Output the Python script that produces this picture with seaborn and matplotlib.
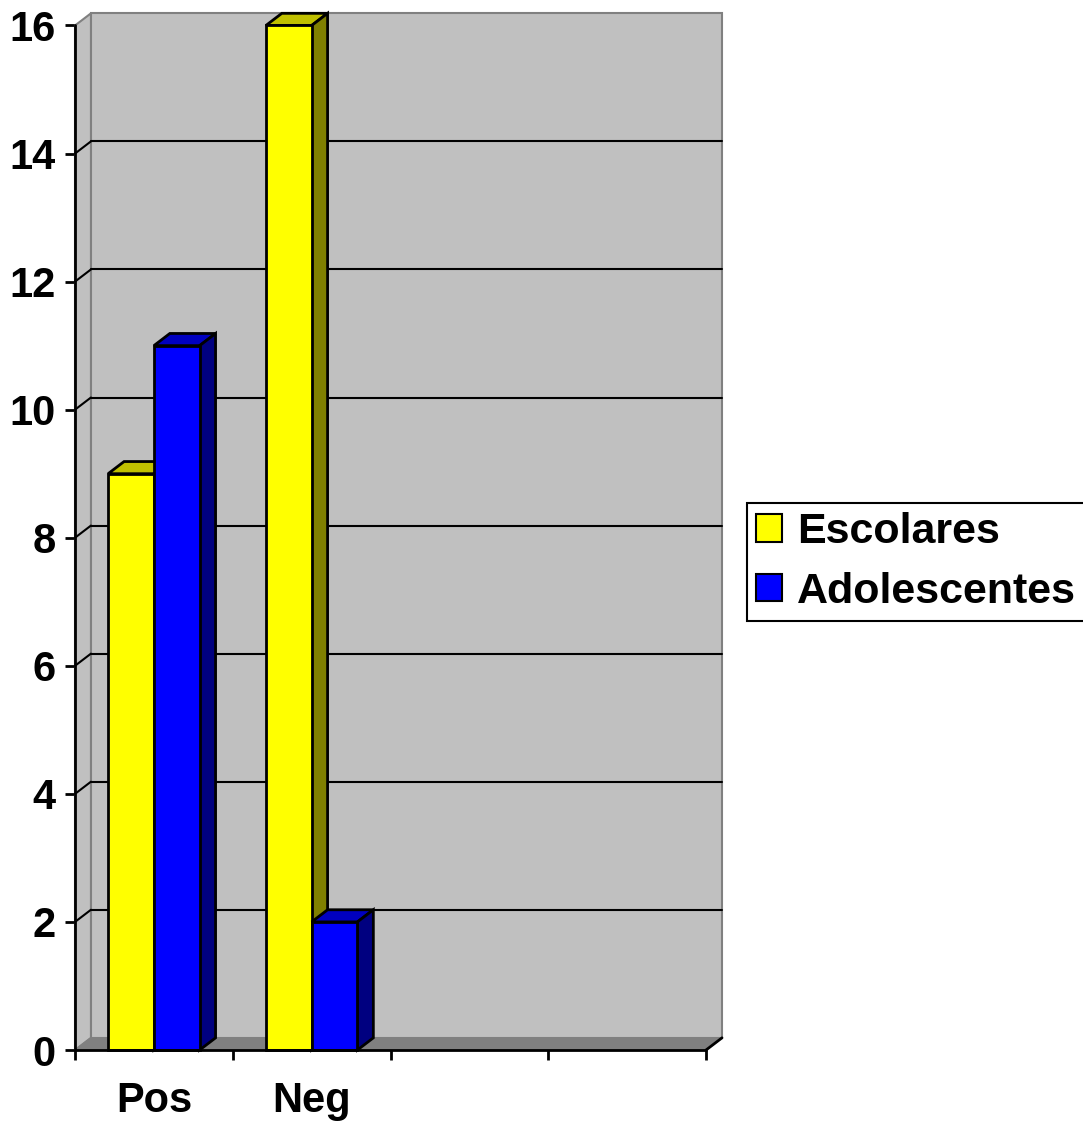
import matplotlib
matplotlib.use("Agg")
import matplotlib.pyplot as plt
import seaborn as sns
import pandas as pd
from matplotlib.patches import Polygon, Patch

# Data
categories = ["Pos", "Neg"]
series = ["Escolares", "Adolescentes"]
escolares = [9, 16]
adolescentes = [11, 2]
y_ticks = [0, 2, 4, 6, 8, 10, 12, 14, 16]
n_slots = 4

front_colors = {"Escolares": "#FFFF00", "Adolescentes": "#0000FF"}
top_colors = {"Escolares": "#C0C000", "Adolescentes": "#0000C0"}
side_colors = {"Escolares": "#808000", "Adolescentes": "#000080"}

df = pd.DataFrame({
    "categoria": categories + categories,
    "serie": [series[0]] * len(categories) + [series[1]] * len(categories),
    "valor": escolares + adolescentes,
})

sns.set_theme(style="white")
plt.rcParams["font.family"] = ["Liberation Sans", "DejaVu Sans"]
plt.rcParams["font.weight"] = "bold"
plt.rcParams["text.color"] = "black"

FS = 30
W, H = 1083, 1124
fig = plt.figure(figsize=(W / 100, H / 100), dpi=100)
fig.patch.set_facecolor("white")
ax = fig.add_axes([75 / W, 74 / H, (722 - 75) / W, (1050 - 13) / H])
ax.set_facecolor("none")

sns.barplot(data=df, x="categoria", y="valor", hue="serie", order=categories,
            hue_order=series, palette=front_colors, saturation=1, width=0.58,
            edgecolor="black", linewidth=2, legend=False, ax=ax)

# 3-D depth offset (data units)
DX, DY = 0.101, 0.19
x0, x1 = -0.5, n_slots - 0.5
ymax = max(y_ticks)
ax.set_xlim(x0, x1 + DX)
ax.set_ylim(0, ymax + DY + 0.005)

wall = "#C0C0C0"
edge_grey = "#808080"

# back wall, side wall, floor
ax.add_patch(Polygon([(x0 + DX, DY), (x1 + DX, DY), (x1 + DX, ymax + DY), (x0 + DX, ymax + DY)],
                     closed=True, facecolor=wall, edgecolor=edge_grey, lw=1.5, zorder=0.5, clip_on=False))
ax.add_patch(Polygon([(x0, 0), (x0, ymax), (x0 + DX, ymax + DY), (x0 + DX, DY)],
                     closed=True, facecolor=wall, edgecolor=edge_grey, lw=1.5, zorder=0.6, clip_on=False))
ax.add_patch(Polygon([(x0, 0), (x1, 0), (x1 + DX, DY), (x0 + DX, DY)],
                     closed=True, facecolor=edge_grey, edgecolor=edge_grey, lw=1.0, zorder=0.7, clip_on=False))

# gridlines on back and side walls
for v in y_ticks[1:-1]:
    ax.plot([x0 + DX, x1 + DX], [v + DY, v + DY], color="black", lw=1.5, zorder=0.8, clip_on=False)
    ax.plot([x0, x0 + DX], [v, v + DY], color="black", lw=1.5, zorder=0.8, clip_on=False)

# floor front edge, right edge and value axis line
ax.plot([x0, x1], [0, 0], color="black", lw=2, zorder=20, clip_on=False)
ax.plot([x1, x1 + DX], [0, DY], color="black", lw=2, zorder=20, clip_on=False)
ax.plot([x0, x0], [0, ymax], color="black", lw=2, zorder=20, clip_on=False)

# give each bar a top and a side face
bars = sorted([p for p in ax.patches if p.get_zorder() >= 1 and p.get_width() < 1],
              key=lambda p: p.get_x())
rgb_to_series = {tuple(round(c, 3) for c in matplotlib.colors.to_rgb(col)): s
                 for s, col in front_colors.items()}
for i, p in enumerate(bars):
    s = rgb_to_series[tuple(round(c, 3) for c in p.get_facecolor()[:3])]
    bx, bw, bh = p.get_x(), p.get_width(), p.get_height()
    z = 3 + 2 * i
    ax.add_patch(Polygon([(bx, bh), (bx + bw, bh), (bx + bw + DX, bh + DY), (bx + DX, bh + DY)],
                         closed=True, facecolor=top_colors[s], edgecolor="black", lw=2,
                         zorder=z, clip_on=False))
    ax.add_patch(Polygon([(bx + bw, 0), (bx + bw + DX, DY), (bx + bw + DX, bh + DY), (bx + bw, bh)],
                         closed=True, facecolor=side_colors[s], edgecolor="black", lw=2,
                         zorder=z, clip_on=False))
    p.set_zorder(z + 1)
    p.set_clip_on(False)

for sp in ax.spines.values():
    sp.set_visible(False)

ax.set_xlabel("")
ax.set_ylabel("")
ax.set_xticks([x0 + k for k in range(n_slots + 1)], labels=[""] * (n_slots + 1))
ax.set_xticks(list(range(len(categories))), labels=categories, minor=True)
ax.tick_params(axis="x", which="major", bottom=True, direction="out", length=7.5, width=2,
               color="black")
ax.tick_params(axis="x", which="minor", bottom=True, length=0, pad=22, labelsize=FS,
               labelcolor="black")
ax.set_yticks(y_ticks)
ax.tick_params(axis="y", left=True, direction="out", length=7, width=2, pad=7,
               labelsize=FS, color="black", labelcolor="black")
for t in ax.get_xticklabels(minor=True) + ax.get_yticklabels():
    t.set_fontweight("bold")

handles = [Patch(facecolor=front_colors[s], edgecolor="black", linewidth=1.5) for s in series]
leg = fig.legend(handles, series, loc="center left", bbox_to_anchor=(747 / W, 1 - 562 / H),
                 frameon=True, fancybox=False, edgecolor="black", framealpha=1, fontsize=31,
                 handlelength=0.6, handleheight=0.6, handletextpad=0.35, borderpad=0.22,
                 labelspacing=0.45, borderaxespad=0, labelcolor="black")
leg.get_frame().set_linewidth(1.5)
for t in leg.get_texts():
    t.set_fontweight("bold")

fig.savefig("out.png", dpi=100)
